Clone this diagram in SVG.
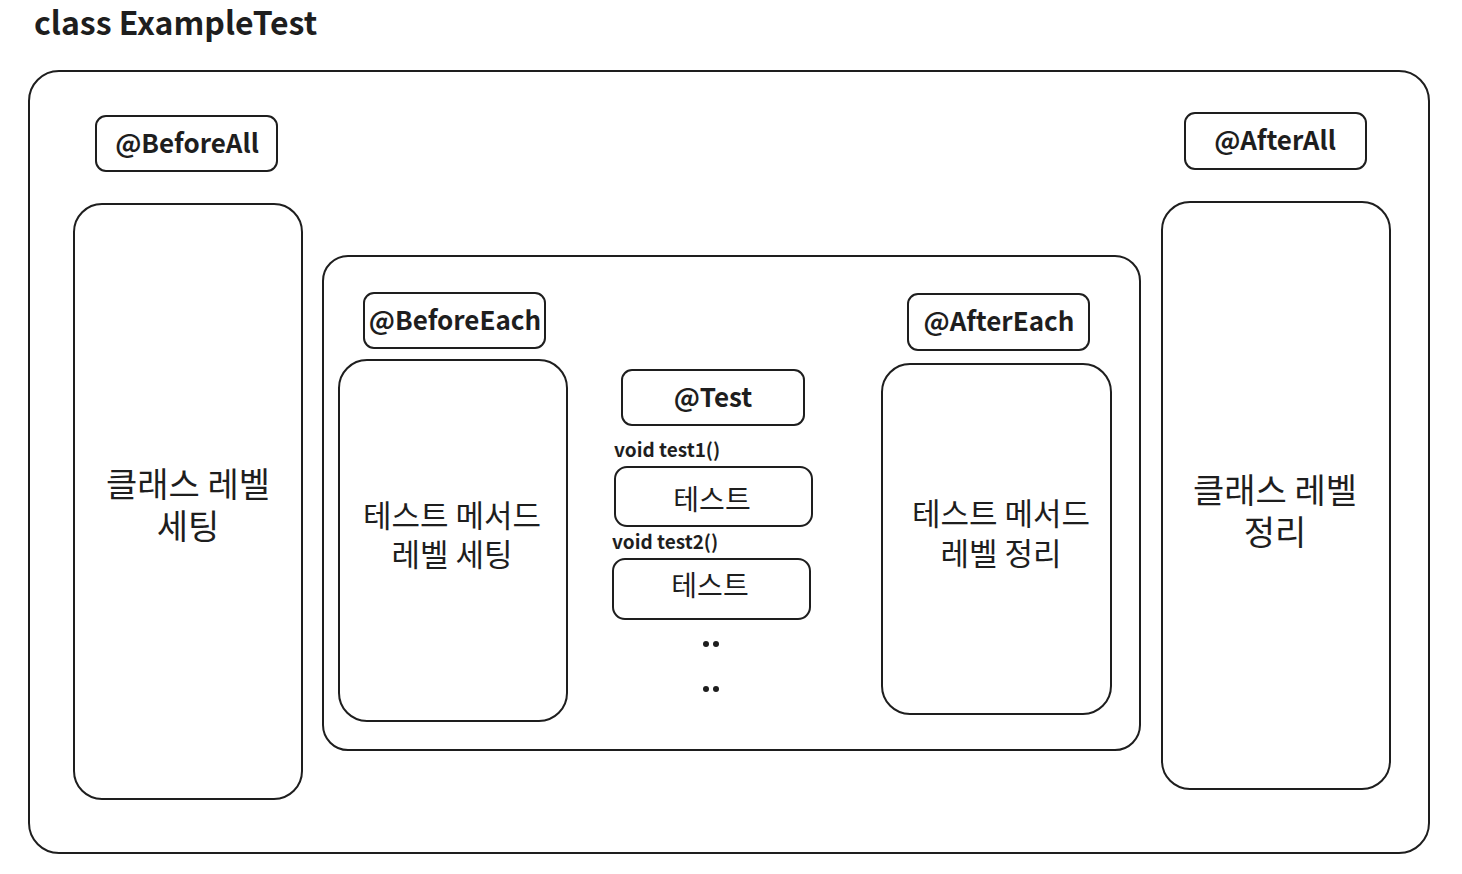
<svg xmlns="http://www.w3.org/2000/svg" width="1462" height="874" viewBox="0 0 1462 874">
<style>
.box{fill:#fff;stroke:#1e1e1e;stroke-width:2}
.lbl{font-family:"Noto Sans CJK KR","Noto Sans",sans-serif;font-weight:700;fill:#1e1e1e;text-anchor:middle}
.ko{font-family:"Noto Sans CJK KR","Noto Sans",sans-serif;font-weight:400;fill:#1e1e1e;text-anchor:middle}
.code{font-family:"Noto Sans CJK KR","Noto Sans",sans-serif;font-weight:700;fill:#1e1e1e;font-size:19px}
</style>
<rect width="1462" height="874" fill="#fff"/>
<text x="34" y="35" font-family="'Noto Sans CJK KR','Noto Sans',sans-serif" font-weight="700" font-size="32" fill="#1e1e1e">class ExampleTest</text>
<g id="outer"><rect class="box" x="29" y="71" width="1400" height="782" rx="30"/></g>
<g id="beforeAll"><rect class="box" x="96" y="116" width="181" height="55" rx="10"/><text class="lbl" x="187" y="153" font-size="26">@BeforeAll</text></g>
<g id="afterAll"><rect class="box" x="1185" y="113" width="181" height="56" rx="10"/><text class="lbl" x="1275" y="150" font-size="26">@AfterAll</text></g>
<g id="classSetup"><rect class="box" x="74" y="204" width="228" height="595" rx="28"/><text class="ko" x="188" y="497" font-size="34">클래스 레벨</text><text class="ko" x="188" y="539" font-size="34">세팅</text></g>
<g id="classTeardown"><rect class="box" x="1162" y="202" width="228" height="587" rx="28"/><text class="ko" x="1275" y="503" font-size="34">클래스 레벨</text><text class="ko" x="1275" y="545" font-size="34">정리</text></g>
<g id="methodScope"><rect class="box" x="323" y="256" width="817" height="494" rx="25"/></g>
<g id="beforeEach"><rect class="box" x="364" y="293" width="181" height="55" rx="10"/><text class="lbl" x="455" y="330" font-size="26">@BeforeEach</text></g>
<g id="afterEach"><rect class="box" x="908" y="294" width="181" height="56" rx="10"/><text class="lbl" x="999" y="331" font-size="26">@AfterEach</text></g>
<g id="methodSetup"><rect class="box" x="339" y="360" width="228" height="361" rx="28"/><text class="ko" x="452" y="527" font-size="31">테스트 메서드</text><text class="ko" x="452" y="566" font-size="31">레벨 세팅</text></g>
<g id="methodTeardown"><rect class="box" x="882" y="364" width="229" height="350" rx="28"/><text class="ko" x="1001" y="525" font-size="31">테스트 메서드</text><text class="ko" x="1001" y="565" font-size="31">레벨 정리</text></g>
<g id="testAnno"><rect class="box" x="622" y="370" width="182" height="55" rx="10"/><text class="lbl" x="713" y="407" font-size="26">@Test</text></g>
<g id="test1"><text class="code" x="614" y="457">void test1()</text><rect class="box" x="615" y="467" width="197" height="59" rx="12"/><text class="ko" x="712" y="510" font-size="28">테스트</text></g>
<g id="test2"><text class="code" x="612" y="549">void test2()</text><rect class="box" x="613" y="559" width="197" height="60" rx="12"/><text class="ko" x="710" y="596" font-size="28">테스트</text></g>
<g id="ellipsis" fill="#1e1e1e"><circle cx="706" cy="644" r="3"/><circle cx="716" cy="644" r="3"/><circle cx="706" cy="689" r="3"/><circle cx="716" cy="689" r="3"/></g>
<g id="connectors"></g>
</svg>
